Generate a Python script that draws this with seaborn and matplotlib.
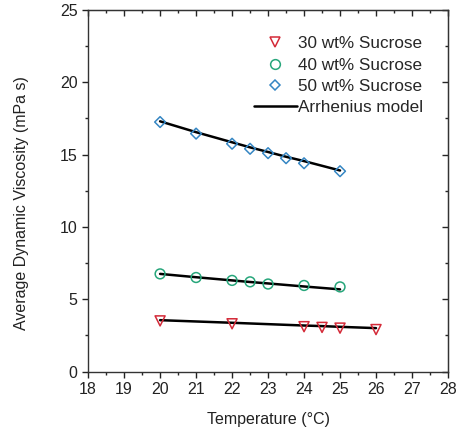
import numpy as np
import matplotlib
matplotlib.use('Agg')
import matplotlib.pyplot as plt
import seaborn as sns
from matplotlib.lines import Line2D
from matplotlib.ticker import MultipleLocator

sns.set_style('ticks')
plt.rcParams['font.family'] = ['Liberation Sans', 'DejaVu Sans']

# 資料
temps_30 = [20, 22, 24, 24.5, 25, 26]
visc_30 = [3.50, 3.30, 3.10, 3.05, 3.00, 2.90]
model_30 = [3.55, 3.37, 3.18, 3.14, 3.09, 3.00]

temps_40 = [20, 21, 22, 22.5, 23, 24, 25]
visc_40 = [6.75, 6.50, 6.30, 6.20, 6.05, 5.95, 5.85]
model_40 = [6.75, 6.52, 6.30, 6.19, 6.09, 5.88, 5.68]

temps_50 = [20, 21, 22, 22.5, 23, 23.5, 24, 25]
visc_50 = [17.25, 16.45, 15.75, 15.40, 15.10, 14.75, 14.40, 13.85]
model_50 = [17.30, 16.55, 15.85, 15.50, 15.18, 14.85, 14.55, 13.90]

labels = ['30 wt% Sucrose', '40 wt% Sucrose', '50 wt% Sucrose', 'Arrhenius model']
colors = ['#d42a38', '#27a67b', '#3586c3']
markers = ['v', 'o', 'D']

fig = plt.figure(figsize=(4.59, 4.33), dpi=100)
ax = fig.add_axes([0.192, 0.142, 0.784, 0.835])

series = [(temps_30, visc_30, model_30), (temps_40, visc_40, model_40), (temps_50, visc_50, model_50)]
sizes = [52, 50, 30]
leg_sizes = [7.2, 7, 5.4]

for (t, v, m), c, mk, s in zip(series, colors, markers, sizes):
    sns.lineplot(x=t, y=m, color='black', linewidth=1.8, ax=ax, zorder=2)
    sns.scatterplot(x=t, y=v, marker=mk, s=s, facecolor='none', edgecolor=c,
                    linewidth=1.1, ax=ax, zorder=3)

ax.set_xlim(18, 28)
ax.set_ylim(0, 25)
ax.xaxis.set_major_locator(MultipleLocator(1))
ax.xaxis.set_minor_locator(MultipleLocator(0.5))
ax.yaxis.set_major_locator(MultipleLocator(5))
ax.yaxis.set_minor_locator(MultipleLocator(2.5))
ax.tick_params(which='major', direction='out', length=4, width=1, labelsize=11.5, colors='#222222')
ax.tick_params(which='minor', direction='out', length=2.5, width=1)
for sp in ax.spines.values():
    sp.set_linewidth(1)
    sp.set_color('#333333')

# 上方與右側的內向刻度
top = ax.secondary_xaxis('top')
top.xaxis.set_major_locator(MultipleLocator(1))
top.xaxis.set_minor_locator(MultipleLocator(0.5))
top.tick_params(which='both', direction='in', labeltop=False, width=1)
top.tick_params(which='major', length=4)
top.tick_params(which='minor', length=2.5)
right = ax.secondary_yaxis('right')
right.yaxis.set_major_locator(MultipleLocator(5))
right.yaxis.set_minor_locator(MultipleLocator(2.5))
right.tick_params(which='both', direction='in', labelright=False, width=1)
right.tick_params(which='major', length=4)
right.tick_params(which='minor', length=2.5)

ax.set_xlabel('Temperature (°C)', fontsize=11.5, labelpad=11, color='#222222')
ax.set_ylabel('Average Dynamic Viscosity (mPa s)', fontsize=11.5, color='#222222')
ax.yaxis.set_label_coords(-0.165, 0.466)

handles = [Line2D([], [], linestyle='none', marker=mk, markersize=ms, markerfacecolor='none',
                  markeredgecolor=c, markeredgewidth=1.1) for mk, c, ms in zip(markers, colors, leg_sizes)]
handles.append(Line2D([], [], color='black', linewidth=1.8))
ax.legend(handles, labels, loc='upper right', bbox_to_anchor=(0.96, 0.955), frameon=False,
          fontsize=12.3, handlelength=2.5, handletextpad=0.1, labelspacing=0.36,
          borderaxespad=0.2)

plt.savefig('out.png', dpi=100)
